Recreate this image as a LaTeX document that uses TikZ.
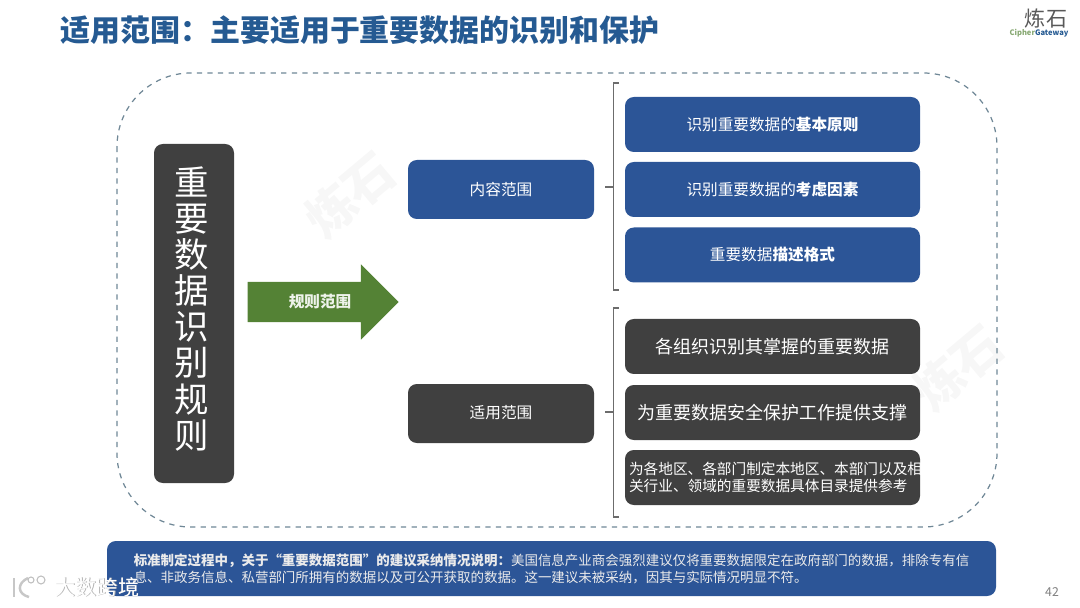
\documentclass[tikz,border=0pt]{standalone}
\usepackage{fontspec}
\setmainfont{Noto Sans CJK SC}
\usetikzlibrary{shapes.arrows}
\definecolor{ruleblue}{HTML}{2C5597}
\definecolor{ruledark}{HTML}{404040}
\definecolor{rulegreen}{HTML}{548235}
\definecolor{titleblue}{HTML}{255A92}
\definecolor{dashgrey}{HTML}{6F8796}
\begin{document}
\begin{tikzpicture}[x=0.02cm, y=-0.02cm, line width=0.6pt,
  box/.style={rounded corners=5pt, inner sep=0pt, align=center, text=white},
  rowbox/.style={box, minimum width=295*0.02cm, minimum height=55*0.02cm},
  sidebox/.style={box, minimum width=186*0.02cm, minimum height=59*0.02cm, font=\fontsize{8.9pt}{11pt}\selectfont},
  rowblue/.style={rowbox, fill=ruleblue, font=\fontsize{8.9pt}{11pt}\selectfont},
  rowdark/.style={rowbox, fill=ruledark, font=\fontsize{10.25pt}{12pt}\selectfont},
  brace/.style={draw=gray!85!black, line width=0.6pt},
  wmark/.style={text=black!3, rotate=40, font=\bfseries\fontsize{28pt}{28pt}\selectfont}]
  \useasboundingbox (0,0) rectangle (1080,608);
  % 标题与标志
  \node[text=titleblue, font=\bfseries\fontsize{17.05pt}{20pt}\selectfont] (title) at (360,30) {适用范围：主要适用于重要数据的识别和保护};
  \node[text=black!65, font=\fontsize{12pt}{12pt}\selectfont] (logo) at (1046,18) {炼石};
  \node[font=\bfseries\fontsize{4.3pt}{5pt}\selectfont] (logosub) at (1039,33) {\textcolor{rulegreen!70}{Cipher}\textcolor{titleblue}{Gateway}};
  % 水印
  \node[wmark] (mark1) at (350,195) {炼石};
  \node[wmark] (mark2) at (958,368) {炼石};
  % 外框
  \draw[dashgrey, line width=0.7pt, dashed, rounded corners=42pt] (117,73) rectangle (997,527);
  % 左侧
  \node[box, fill=ruledark, minimum width=80*0.02cm, minimum height=339*0.02cm] (main) at (194,313.5) {};
  \node[text=white, align=center, inner sep=0pt, font=\fontsize{19.6pt}{20.5pt}\selectfont] (maintext) at (192,309) {重\\要\\数\\据\\识\\别\\规\\则};
  \node[single arrow, fill=rulegreen, inner sep=0pt, minimum width=74*0.02cm, minimum height=151*0.02cm, single arrow head extend=17.5*0.02cm, single arrow head indent=0pt, text=white!90!rulegreen, text height=0.5cm, text depth=0.28cm, font=\bfseries\fontsize{8.9pt}{11pt}\selectfont] (scope) at (313,302) {\hspace*{8pt}规则范围};
  % 中间
  \node[sidebox, fill=ruleblue] (content) at (501,189.5) {\raisebox{0.6pt}{内容范围}};
  \node[sidebox, fill=ruledark] (apply) at (501,413.5) {\raisebox{1.7pt}{适用范围}};
  % 右侧
  \node[rowblue] (c1) at (772.5,124.5) {\raisebox{1.1pt}{识别重要数据的\textbf{基本原则}}};
  \node[rowblue] (c2) at (772.5,189.5) {识别重要数据的\textbf{考虑因素}};
  \node[rowblue] (c3) at (772.5,255) {重要数据\textbf{描述格式}};
  \node[rowdark] (a1) at (772.5,346.5) {各组织识别其掌握的重要数据};
  \node[rowdark] (a2) at (772.5,412.5) {为重要数据安全保护工作提供支撑};
  \node[rowdark, font=\fontsize{8.34pt}{9.6pt}\selectfont, text width=295*0.02cm, align=left] (a3) at (772.5,477.5) {\hspace*{2.3pt}为各地区、各部门制定本地区、本部门以及相\\\hspace*{2.3pt}关行业、领域的重要数据具体目录提供参考};
  % 括线
  \coordinate (ctick) at (605,187);
  \coordinate (cmid) at (613.5,187);
  \coordinate (atick) at (605,412);
  \coordinate (amid) at (613.5,412);
  \draw[brace] (619,83) -- (613.5,83) -- (613.5,290) -- (619,290);
  \draw[brace] (619,308) -- (613.5,308) -- (613.5,517) -- (619,517);
  \draw[brace] (ctick) -- (cmid);
  \draw[brace] (atick) -- (amid);
  % 底部说明
  \node[box, fill=ruleblue, minimum width=889*0.02cm, minimum height=55*0.02cm, font=\fontsize{7.67pt}{9.7pt}\selectfont, align=left, text=white!92!black] (note) at (551.5,568.5) {\textbf{标准制定过程中，关于“重要数据范围”的建议采纳情况说明：}美国信息产业商会强烈建议仅将重要数据限定在政府部门的数据，排除专有信\\息、非政务信息、私营部门所拥有的数据以及可公开获取的数据。这一建议未被采纳，因其与实际情况明显不符。};
  \node[text=gray, font=\fontsize{7pt}{8pt}\selectfont] (page) at (1052,592) {42};
  % 角标
  \node[text=black!30, font=\fontsize{12pt}{13pt}\selectfont] (brandshade) at (97.5,587.8) {大数跨境};
  \node[text=white, font=\fontsize{12pt}{13pt}\selectfont] (brand) at (97,587) {大数跨境};
  \draw[black!22, line width=1.4pt] (14,578) -- (14,597);
  \draw[black!22, line width=1.4pt] (28,578) .. controls (17,583) and (17,594) .. (29,597);
  \draw[black!25, line width=0.6pt] (31,580) circle (3);
  \draw[black!25, line width=0.6pt] (41,580) circle (4);
\end{tikzpicture}
\end{document}
